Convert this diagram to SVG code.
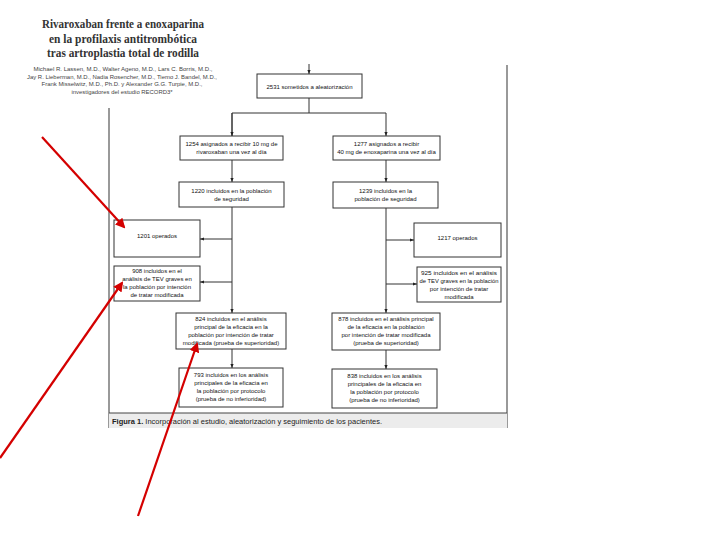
<svg xmlns="http://www.w3.org/2000/svg" width="720" height="540" viewBox="0 0 720 540">
<defs>
<marker id="ah" viewBox="0 0 10 10" refX="10" refY="5" markerWidth="4" markerHeight="4" orient="auto" markerUnits="userSpaceOnUse"><path d="M0,1 L10,5 L0,9 z" fill="#222"/></marker>
<marker id="rh" viewBox="0 0 10 10" refX="8" refY="5" markerWidth="10" markerHeight="10" orient="auto" markerUnits="userSpaceOnUse"><path d="M0,0 L10,5 L0,10 z" fill="#d40000"/></marker>
</defs>
<style>
.box{fill:#fff;stroke:#333;stroke-width:1}
.t{font-family:"Liberation Sans",Arial,sans-serif;font-size:6px;fill:#111;text-anchor:middle}
.ln{stroke:#333;stroke-width:1;fill:none}
.ti{font-family:"Liberation Serif","Times New Roman",serif;font-size:12px;fill:#333;text-anchor:middle;font-weight:bold}
.au{font-family:"Liberation Sans",Arial,sans-serif;font-size:5.3px;fill:#444;text-anchor:middle}
.red{stroke:#d40000;stroke-width:2.2;fill:none}
</style>
<rect width="720" height="540" fill="#fff"/>
<g id="title">
<text class="ti" x="123" y="28" textLength="162" lengthAdjust="spacingAndGlyphs">Rivaroxaban frente a enoxaparina</text>
<text class="ti" x="123" y="42.5" textLength="148" lengthAdjust="spacingAndGlyphs">en la profilaxis antitrombótica</text>
<text class="ti" x="123" y="57" textLength="152" lengthAdjust="spacingAndGlyphs">tras artroplastia total de rodilla</text>
<text class="au" x="123" y="71" textLength="179" lengthAdjust="spacingAndGlyphs">Michael R. Lassen, M.D., Walter Ageno, M.D., Lars C. Borris, M.D.,</text>
<text class="au" x="122" y="78.5" textLength="190" lengthAdjust="spacingAndGlyphs">Jay R. Lieberman, M.D., Nadia Rosencher, M.D., Tiemo J. Bandel, M.D.,</text>
<text class="au" x="122" y="86" textLength="161" lengthAdjust="spacingAndGlyphs">Frank Misselwitz, M.D., Ph.D. y Alexander G.G. Turpie, M.D.,</text>
<text class="au" x="122" y="93.5" textLength="101" lengthAdjust="spacingAndGlyphs">investigadores del estudio RECORD3*</text>
</g>
<g id="frame">
<line x1="109" y1="108" x2="109" y2="428" stroke="#555" stroke-width="1.2"/>
<line x1="507" y1="65" x2="507" y2="428" stroke="#555" stroke-width="1.2"/>
<rect x="109" y="413" width="398" height="15" fill="#ececec"/>
<line x1="109" y1="413" x2="507" y2="413" stroke="#444" stroke-width="1"/>
<text x="112" y="424" font-family="'Liberation Sans',Arial,sans-serif" font-size="7px" fill="#222" textLength="270" lengthAdjust="spacingAndGlyphs"><tspan font-weight="bold">Figura 1.</tspan> Incorporación al estudio, aleatorización y seguimiento de los pacientes.</text>
</g>
<g id="connectors">
<line class="ln" x1="309" y1="64" x2="309" y2="74" marker-end="url(#ah)"/>
<polyline class="ln" points="309,98 309,113"/>
<polyline class="ln" points="232,136 232,113 386,113 386,136" marker-end="url(#ah)"/>
<line class="ln" x1="232" y1="113" x2="232" y2="136" marker-end="url(#ah)"/>
<line class="ln" x1="232" y1="160" x2="232" y2="182" marker-end="url(#ah)"/>
<line class="ln" x1="386" y1="160" x2="386" y2="182" marker-end="url(#ah)"/>
<line class="ln" x1="232" y1="207" x2="232" y2="313" marker-end="url(#ah)"/>
<line class="ln" x1="386" y1="208" x2="386" y2="313" marker-end="url(#ah)"/>
<line class="ln" x1="232" y1="239" x2="200" y2="239" marker-end="url(#ah)"/>
<line class="ln" x1="232" y1="282" x2="200" y2="282" marker-end="url(#ah)"/>
<line class="ln" x1="386" y1="240" x2="414" y2="240" marker-end="url(#ah)"/>
<line class="ln" x1="386" y1="284" x2="417" y2="284" marker-end="url(#ah)"/>
<line class="ln" x1="232" y1="349" x2="232" y2="368" marker-end="url(#ah)"/>
<line class="ln" x1="386" y1="350" x2="386" y2="369" marker-end="url(#ah)"/>
</g>
<g id="n2531"><rect class="box" x="257" y="74" width="105" height="24"/><text class="t" x="309.5" y="88.5">2531 sometidos a aleatorización</text></g>
<g id="n1254"><rect class="box" x="180" y="136" width="103" height="24"/><text class="t" x="231.5" y="146">1254 asignados a recibir 10 mg de</text><text class="t" x="231.5" y="154">rivaroxaban una vez al día</text></g>
<g id="n1277"><rect class="box" x="333" y="136" width="107" height="24"/><text class="t" x="386.5" y="146">1277 asignados a recibir</text><text class="t" x="386.5" y="154">40 mg de enoxaparina una vez al día</text></g>
<g id="n1220"><rect class="box" x="179" y="182" width="105" height="25"/><text class="t" x="231.5" y="192.5">1220 incluidos en la población</text><text class="t" x="231.5" y="200.5">de seguridad</text></g>
<g id="n1239"><rect class="box" x="333" y="182" width="105" height="26"/><text class="t" x="385.5" y="192.5">1239 incluidos en la</text><text class="t" x="385.5" y="200.5">población de seguridad</text></g>
<g id="n1201"><rect class="box" x="114" y="220" width="86" height="37"/><text class="t" x="157" y="237.5">1201 operados</text></g>
<g id="n908"><rect class="box" x="114" y="266" width="86" height="35"/><text class="t" x="157" y="273">908 incluidos en el</text><text class="t" x="157" y="281">análisis de TEV graves en</text><text class="t" x="157" y="289">la población por intención</text><text class="t" x="157" y="297">de tratar modificada</text></g>
<g id="n1217"><rect class="box" x="414" y="223" width="87" height="34"/><text class="t" x="457.5" y="239.5">1217 operados</text></g>
<g id="n925"><rect class="box" x="417" y="267" width="84" height="35"/><text class="t" x="459" y="274.5" textLength="76" lengthAdjust="spacingAndGlyphs">925 incluidos en el análisis</text><text class="t" x="459" y="282.5" textLength="79" lengthAdjust="spacingAndGlyphs">de TEV graves en la población</text><text class="t" x="459" y="290.5">por intención de tratar</text><text class="t" x="459" y="298.5">modificada</text></g>
<g id="n824"><rect class="box" x="176" y="313" width="110" height="36"/><text class="t" x="231" y="320.5">824 incluidos en el análisis</text><text class="t" x="231" y="328.5">principal de la eficacia en la</text><text class="t" x="231" y="336.5">población por intención de tratar</text><text class="t" x="231" y="344.5">modificada (prueba de superioridad)</text></g>
<g id="n878"><rect class="box" x="332" y="313" width="108" height="37"/><text class="t" x="386" y="321">878 incluidos en el análisis principal</text><text class="t" x="386" y="329">de la eficacia en la población</text><text class="t" x="386" y="337">por intención de tratar modificada</text><text class="t" x="386" y="345">(prueba de superioridad)</text></g>
<g id="n793"><rect class="box" x="179" y="368" width="104" height="39"/><text class="t" x="231" y="377">793 incluidos en los análisis</text><text class="t" x="231" y="385">principales de la eficacia en</text><text class="t" x="231" y="393">la población por protocolo</text><text class="t" x="231" y="401">(prueba de no inferioridad)</text></g>
<g id="n838"><rect class="box" x="332" y="369" width="105" height="39"/><text class="t" x="384.5" y="378">838 incluidos en los análisis</text><text class="t" x="384.5" y="386">principales de la eficacia en</text><text class="t" x="384.5" y="394">la población por protocolo</text><text class="t" x="384.5" y="402">(prueba de no inferioridad)</text></g>
<g id="red-arrows">
<line class="red" x1="42" y1="137" x2="124" y2="227" marker-end="url(#rh)"/>
<line class="red" x1="0" y1="458" x2="122" y2="283" marker-end="url(#rh)"/>
<line class="red" x1="138" y1="516" x2="197" y2="344" marker-end="url(#rh)"/>
</g>
</svg>
